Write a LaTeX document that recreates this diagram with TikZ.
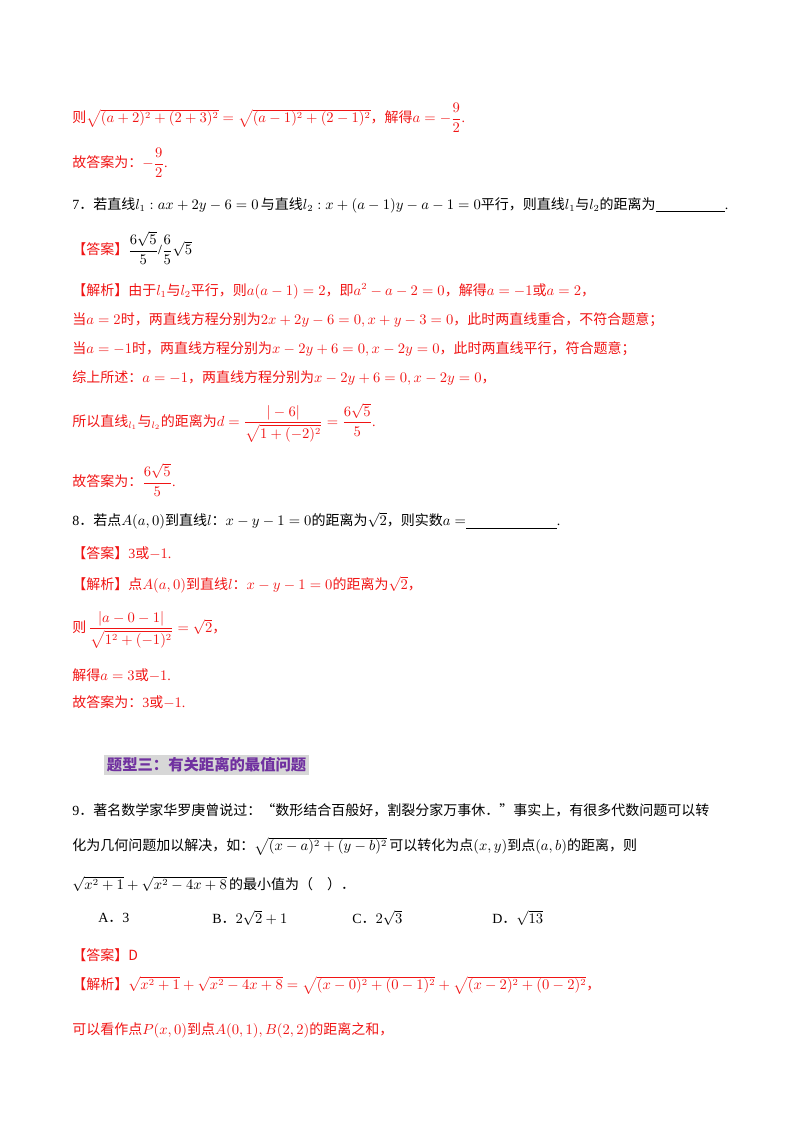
\documentclass[tikz,border=0pt]{standalone}
\usepackage{amsmath}
\usepackage{fontspec}
\setmainfont{Liberation Serif}
\newfontfamily\cjk{Noto Sans CJK SC}
\newcommand{\zh}[1]{{\cjk #1}}
\definecolor{ansred}{RGB}{240,20,20}
\definecolor{headpurple}{RGB}{112,48,160}
\definecolor{headgray}{RGB}{215,215,215}
\tikzset{line/.style={anchor=west,inner sep=0pt,font=\fontsize{10.5}{12}\selectfont},
 redline/.style={line,text=ansred}}
\begin{document}
\begin{tikzpicture}[x=0.75pt,y=-0.75pt]
\useasboundingbox (0,0) rectangle (800,1132);
\node[redline] (l1) at (72,118) {\zh{则}$\sqrt{(a+2)^2+(2+3)^2}=\sqrt{(a-1)^2+(2-1)^2}$\zh{，解得}$a=-\dfrac{9}{2}$.};
\node[redline] (l2) at (72,163) {\zh{故答案为：}$-\dfrac{9}{2}$.};
\node[line] (q7) at (72,205) {7\zh{．若直线}$l_1:ax+2y-6=0$\,\zh{与直线}$l_2:x+(a-1)y-a-1=0$\zh{平行，则直线}$l_1$\zh{与}$l_2$\zh{的距离为}\underline{\hspace{52pt}}.};
\node[redline] (a7) at (72,248) {\zh{【答案】}\textcolor{black}{$\dfrac{6\sqrt5}{5}$/$\dfrac{6}{5}\sqrt5$}};
\node[redline] (j7) at (72,291) {\zh{【解析】由于}$l_1$\zh{与}$l_2$\zh{平行，则}$a(a-1)=2$\zh{，即}$a^2-a-2=0$\zh{，解得}$a=-1$\zh{或}$a=2$\zh{，}};
\node[redline] (j7b) at (72,320) {\zh{当}$a=2$\zh{时，两直线方程分别为}$2x+2y-6=0,x+y-3=0$\zh{，此时两直线重合，不符合题意；}};
\node[redline] (j7c) at (72,349) {\zh{当}$a=-1$\zh{时，两直线方程分别为}$x-2y+6=0,x-2y=0$\zh{，此时两直线平行，符合题意；}};
\node[redline] (j7d) at (72,378) {\zh{综上所述：}$a=-1$\zh{，两直线方程分别为}$x-2y+6=0,x-2y=0$\zh{，}};
\node[redline] (j7e) at (72,423) {\zh{所以直线}$_{l_1}$\zh{与}$_{l_2}$\zh{的距离为}$d=\dfrac{|-6|}{\sqrt{1+(-2)^2}}=\dfrac{6\sqrt5}{5}$.};
\node[redline] (j7f) at (72,480) {\zh{故答案为：}$\dfrac{6\sqrt5}{5}$.};
\node[line] (q8) at (72,521) {8\zh{．若点}$A(a,0)$\zh{到直线}$l$\zh{：}$x-y-1=0$\zh{的距离为}$\sqrt2$\zh{，则实数}$a=$\underline{\hspace{68pt}}.};
\node[redline] (a8) at (72,553) {\zh{【答案】}3\zh{或}$-1$.};
\node[redline] (j8) at (72,585) {\zh{【解析】点}$A(a,0)$\zh{到直线}$l$\zh{：}$x-y-1=0$\zh{的距离为}$\sqrt2$\zh{，}};
\node[redline] (j8b) at (72,630) {\zh{则}\,$\dfrac{|a-0-1|}{\sqrt{1^2+(-1)^2}}=\sqrt2$\zh{，}};
\node[redline] (j8c) at (72,675) {\zh{解得}$a=3$\zh{或}$-1$.};
\node[redline] (j8d) at (72,702) {\zh{故答案为：}3\zh{或}$-1$.};
\node[line,fill=headgray,text=headpurple,inner sep=2pt,font=\fontsize{11.5}{13}\selectfont\cjk\bfseries] (h3) at (104,765) {题型三：有关距离的最值问题};
\node[line] (q9) at (72,810) {9\zh{．著名数学家华罗庚曾说过：“数形结合百般好，割裂分家万事休．”事实上，有很多代数问题可以转}};
\node[line] (q9b) at (72,846) {\zh{化为几何问题加以解决，如：}$\sqrt{(x-a)^2+(y-b)^2}$\,\zh{可以转化为点}$(x,y)$\zh{到点}$(a,b)$\zh{的距离，则}};
\node[line] (q9c) at (72,884) {$\sqrt{x^2+1}+\sqrt{x^2-4x+8}$\,\zh{的最小值为（\quad ）．}};
\node[line] (oA) at (98,918) {A\zh{．}3};
\node[line] (oB) at (212,918) {B\zh{．}$2\sqrt2+1$};
\node[line] (oC) at (352,918) {C\zh{．}$2\sqrt3$};
\node[line] (oD) at (492,918) {D\zh{．}$\sqrt{13}$};
\node[redline] (a9) at (72,955) {\zh{【答案】D}};
\node[redline] (j9) at (72,985) {\zh{【解析】}$\sqrt{x^2+1}+\sqrt{x^2-4x+8}=\sqrt{(x-0)^2+(0-1)^2}+\sqrt{(x-2)^2+(0-2)^2}$\zh{，}};
\node[redline] (j9b) at (72,1030) {\zh{可以看作点}$P(x,0)$\zh{到点}$A(0,1),B(2,2)$\zh{的距离之和，}};
\end{tikzpicture}
\end{document}
